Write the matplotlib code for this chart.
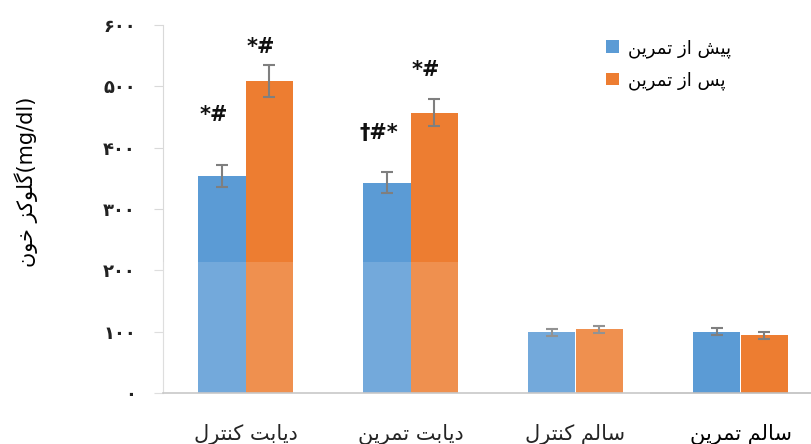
import matplotlib
matplotlib.use("Agg")
import matplotlib.pyplot as plt
from matplotlib.patches import Rectangle

# --- data ---
groups = ["دیابت کنترل", "دیابت تمرین", "سالم کنترل", "سالم تمرین"]
series_names = ["پیش از تمرین", "پس از تمرین"]
pre_mean = [354, 343, 99, 100]
pre_err = [18, 17, 6, 6]
post_mean = [509, 457, 104, 94]
post_err = [26, 22, 6, 6]
y_ticks = [0, 100, 200, 300, 400, 500, 600]
y_label = "گلوکز خون"
y_unit = "(mg/dl)"

# significance marks: (group, series, text, y)
marks = [
    (0, 0, "*#", 453),
    (0, 1, "*#", 564),
    (1, 0, "†#*", 424),
    (1, 1, "*#", 527),
]

BLUE = "#5B9BD5"
ORANGE = "#ED7D31"

# --- persian shaping (matplotlib has no arabic text layout) ---
FORMS = {
    'ا': ('\uFE8D', '\uFE8E', None, None),
    'ب': ('\uFE8F', '\uFE90', '\uFE91', '\uFE92'),
    'پ': ('\uFB56', '\uFB57', '\uFB58', '\uFB59'),
    'ت': ('\uFE95', '\uFE96', '\uFE97', '\uFE98'),
    'خ': ('\uFEA5', '\uFEA6', '\uFEA7', '\uFEA8'),
    'د': ('\uFEA9', '\uFEAA', None, None),
    'ر': ('\uFEAD', '\uFEAE', None, None),
    'ز': ('\uFEAF', '\uFEB0', None, None),
    'س': ('\uFEB1', '\uFEB2', '\uFEB3', '\uFEB4'),
    'ش': ('\uFEB5', '\uFEB6', '\uFEB7', '\uFEB8'),
    'ک': ('\uFB8E', '\uFB8F', '\uFB90', '\uFB91'),
    'گ': ('\uFB92', '\uFB93', '\uFB94', '\uFB95'),
    'ل': ('\uFEDD', '\uFEDE', '\uFEDF', '\uFEE0'),
    'م': ('\uFEE1', '\uFEE2', '\uFEE3', '\uFEE4'),
    'ن': ('\uFEE5', '\uFEE6', '\uFEE7', '\uFEE8'),
    'و': ('\uFEED', '\uFEEE', None, None),
    'ی': ('\uFBFC', '\uFBFD', '\uFBFE', '\uFBFF'),
}


def fa(text):
    out = []
    for i, ch in enumerate(text):
        if ch not in FORMS:
            out.append(ch)
            continue
        prev = text[i - 1] if i > 0 else ""
        nxt = text[i + 1] if i + 1 < len(text) else ""
        iso, fin, ini, med = FORMS[ch]
        join_prev = prev in FORMS and FORMS[prev][2] is not None
        join_next = nxt in FORMS and ini is not None
        if join_prev and join_next:
            out.append(med)
        elif join_prev:
            out.append(fin)
        elif join_next:
            out.append(ini)
        else:
            out.append(iso)
    return "".join(reversed(out))


def fa_digits(n):
    return "".join(chr(0x06F0 + int(d)) for d in str(n))


plt.rcParams['font.family'] = ['DejaVu Sans']

fig = plt.figure(figsize=(8.11, 4.44), dpi=100)
W, H = 811, 444
ax = fig.add_axes([163 / W, 51 / H, 660 / W, 368 / H])

x = list(range(len(groups)))
w = 0.285
ekw = dict(ecolor="#7F7F7F", elinewidth=1.5, capsize=4.5, capthick=1.5)
ax.bar([i - w / 2 for i in x], pre_mean, w, yerr=pre_err, color=BLUE,
       label=fa(series_names[0]), error_kw=ekw)
ax.bar([i + w / 2 for i in x], post_mean, w, yerr=post_err, color=ORANGE,
       label=fa(series_names[1]), error_kw=ekw)

for g, s, txt, yy in marks:
    xc = g + (w / 2 if s else -w / 2) - 0.05
    ax.text(xc, yy, txt, ha="center", va="center", fontsize=15,
            fontweight="bold", color="#111111")

ax.set_xlim(-0.5, len(groups) - 0.5)
ax.set_ylim(0, 600)
ax.set_yticks(y_ticks)
ax.set_yticklabels([fa_digits(v) for v in y_ticks], fontsize=13,
                   fontweight="bold", color="#222222")
ax.set_xticks(x)
ax.set_xticklabels([fa(g) for g in groups], fontsize=15)

for side in ("top", "right"):
    ax.spines[side].set_visible(False)
ax.spines["left"].set_color("#D9D9D9")
ax.spines["bottom"].set_color("#BFBFBF")
ax.spines["bottom"].set_linewidth(1.2)
ax.tick_params(axis="y", length=6.5, color="#D9D9D9", pad=13)
ax.tick_params(axis="x", length=0, pad=22)

fig.text(26 / W, 1 - 182 / H, fa(y_label) + y_unit, rotation=90,
         ha="center", va="center", fontsize=15)

fig.legend(loc="upper left", bbox_to_anchor=(597 / W, 1 - 30 / H),
           frameon=False, fontsize=13, handlelength=0.7, handleheight=0.7,
           handletextpad=0.5, labelspacing=0.75, borderpad=0)

# faint light wash over the lower middle of the plot
fig.patches.append(Rectangle((145 / W, 0), 505 / W, (444 - 262) / H,
                             transform=fig.transFigure, facecolor="white",
                             alpha=0.15, edgecolor="none", zorder=5))

fig.savefig("out.png", dpi=100)
